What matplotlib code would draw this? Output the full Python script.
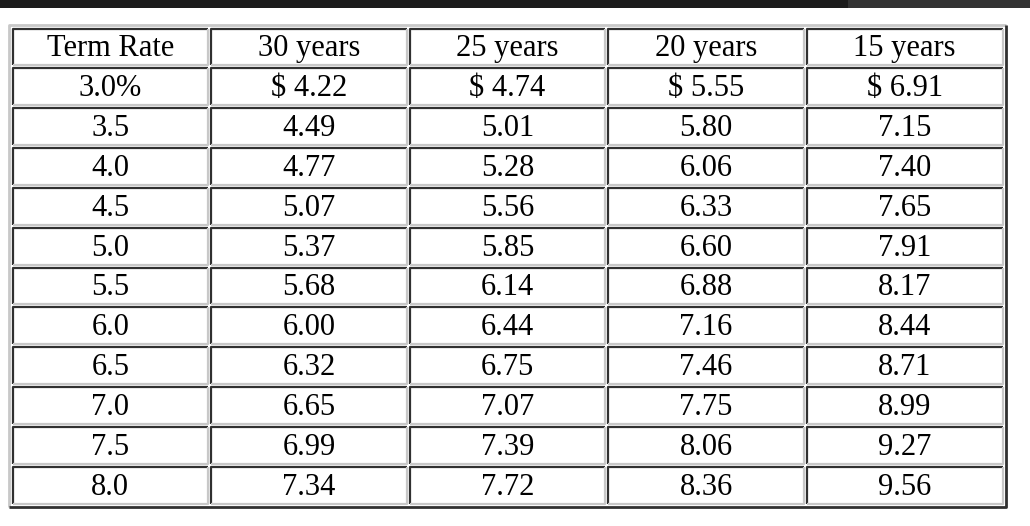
import matplotlib
matplotlib.use("Agg")
import matplotlib.pyplot as plt
from matplotlib.patches import Rectangle

headers = ["Term Rate", "30 years", "25 years", "20 years", "15 years"]
rates = ["3.0%", "3.5", "4.0", "4.5", "5.0", "5.5", "6.0", "6.5", "7.0", "7.5", "8.0"]
y30 = ["$ 4.22", "4.49", "4.77", "5.07", "5.37", "5.68", "6.00", "6.32", "6.65", "6.99", "7.34"]
y25 = ["$ 4.74", "5.01", "5.28", "5.56", "5.85", "6.14", "6.44", "6.75", "7.07", "7.39", "7.72"]
y20 = ["$ 5.55", "5.80", "6.06", "6.33", "6.60", "6.88", "7.16", "7.46", "7.75", "8.06", "8.36"]
y15 = ["$ 6.91", "7.15", "7.40", "7.65", "7.91", "8.17", "8.44", "8.71", "8.99", "9.27", "9.56"]

W, H = 1030, 526
fig = plt.figure(figsize=(W/100, H/100), dpi=100)
ax = fig.add_axes([0, 0, 1, 1])
ax.set_xlim(0, W); ax.set_ylim(H, 0); ax.axis("off")

# top bar
ax.add_patch(Rectangle((0, 0), 848, 8, color="#1c1c1c", lw=0))
ax.add_patch(Rectangle((848, 0), W-848, 8, color="#333333", lw=0))

x0, x1, y0, y1 = 9, 1006, 25, 507
ncol, nrow = 5, 12
cw = (x1 - x0 - 4) / ncol
rh = (y1 - y0 - 4) / nrow
dark, light = "#303030", "#c8c8c8"

# outer border (outset)
ax.plot([x0, x0, x1], [y1, y0, y0], color=light, lw=2, solid_capstyle="butt")
ax.plot([x0, x1, x1], [y1, y1, y0], color=dark, lw=2, solid_capstyle="butt")

cols = [rates, y30, y25, y20, y15]
for r in range(nrow):
    for c in range(ncol):
        cx0 = x0 + 2 + c * cw + 1.5
        cx1 = cx0 + cw - 3
        cy0 = y0 + 2 + r * rh + 1.5
        cy1 = cy0 + rh - 3
        ax.plot([cx0, cx0, cx1], [cy1, cy0, cy0], color=dark, lw=1.6, solid_capstyle="butt")
        ax.plot([cx0, cx1, cx1], [cy1, cy1, cy0], color=light, lw=1.6, solid_capstyle="butt")
        txt = headers[c] if r == 0 else cols[c][r-1]
        ax.text((cx0+cx1)/2, (cy0+cy1)/2 + 2, txt, ha="center", va="center",
                fontsize=22, family="Liberation Serif", color="black")

fig.savefig("out.png", dpi=100)
